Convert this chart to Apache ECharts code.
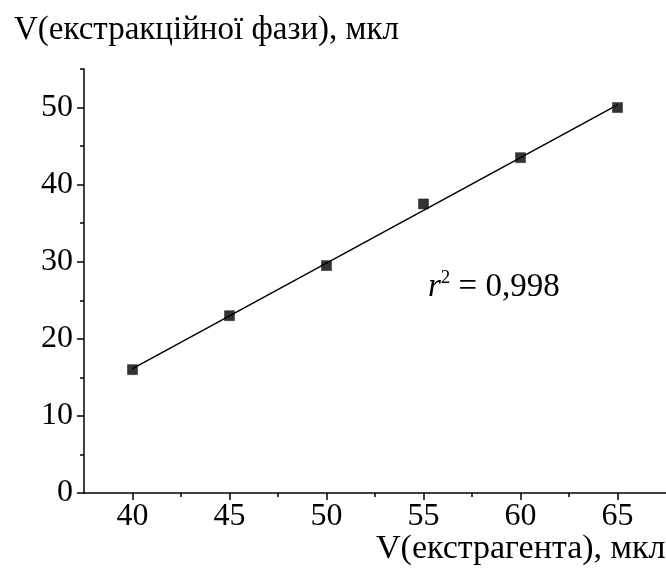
<!DOCTYPE html>
<html>
<head>
<meta charset="utf-8">
<script src="https://cdn.jsdelivr.net/npm/echarts@6/dist/echarts.min.js"></script>
<style>
  html, body { margin: 0; padding: 0; background: #fff; }
  #chart { width: 666px; height: 572px; }
</style>
</head>
<body>
<div id="chart"></div>
<script>
// Extractant volume (x) vs extraction-phase volume (y), µl
const extractantVolume = [40, 45, 50, 55, 60, 65];
const phaseVolume = [16, 23, 29.5, 37.5, 43.5, 50];

const xMajorTicks = [40, 45, 50, 55, 60, 65];
const xMinorTicks = [42.5, 47.5, 52.5, 57.5, 62.5];
const yMajorTicks = [0, 10, 20, 30, 40, 50];
const yMinorTicks = [5, 15, 25, 35, 45, 55];

const yAxisTitle = 'V(екстракційної фази), мкл';
const xAxisTitle = 'V(екстрагента), мкл';
const r2Text = '0,998';

// least-squares line through the measured points
function linearFit(xs, ys) {
  const n = xs.length;
  const mx = xs.reduce((a, b) => a + b, 0) / n;
  const my = ys.reduce((a, b) => a + b, 0) / n;
  let sxy = 0, sxx = 0;
  for (let i = 0; i < n; i++) {
    sxy += (xs[i] - mx) * (ys[i] - my);
    sxx += (xs[i] - mx) * (xs[i] - mx);
  }
  const k = sxy / sxx;
  return { k, b: my - k * mx };
}
const fit = linearFit(extractantVolume, phaseVolume);
const xFirst = extractantVolume[0];
const xLast = extractantVolume[extractantVolume.length - 1];
const fitLine = [[xFirst, fit.k * xFirst + fit.b], [xLast, fit.k * xLast + fit.b]];
const points = extractantVolume.map((x, i) => [x, phaseVolume[i]]);

const FONT = "'Liberation Serif', 'DejaVu Serif', serif";
const axisLine = { show: true, onZero: false, lineStyle: { color: '#000', width: 1.5 } };

const chart = echarts.init(document.getElementById('chart'), null, { renderer: 'canvas' });

chart.setOption({
  backgroundColor: '#fff',
  animation: false,
  grid: { left: 84, right: -7, top: 69, bottom: 79, containLabel: false },
  xAxis: [
    {
      type: 'value', min: 37.5, max: 67.5,
      axisLine,
      axisTick: { show: true, inside: false, length: 7, customValues: xMajorTicks,
        lineStyle: { color: '#000', width: 1.5 } },
      axisLabel: { show: true, customValues: xMajorTicks, margin: 8,
        color: '#000', fontFamily: FONT, fontSize: 32 },
      splitLine: { show: false }
    },
    {
      type: 'value', min: 37.5, max: 67.5, position: 'bottom',
      axisLine: { show: false },
      axisTick: { show: true, inside: false, length: 4, customValues: xMinorTicks,
        lineStyle: { color: '#000', width: 1.5 } },
      axisLabel: { show: false },
      splitLine: { show: false }
    }
  ],
  yAxis: [
    {
      type: 'value', min: 0, max: 55,
      axisLine,
      axisTick: { show: true, inside: false, length: 7, customValues: yMajorTicks,
        lineStyle: { color: '#000', width: 1.5 } },
      axisLabel: { show: true, customValues: yMajorTicks, margin: 11,
        color: '#000', fontFamily: FONT, fontSize: 32 },
      splitLine: { show: false }
    },
    {
      type: 'value', min: 0, max: 55, position: 'left',
      axisLine: { show: false },
      axisTick: { show: true, inside: false, length: 4, customValues: yMinorTicks,
        lineStyle: { color: '#000', width: 1.5 } },
      axisLabel: { show: false },
      splitLine: { show: false }
    }
  ],
  series: [
    {
      name: 'fit', type: 'line', data: fitLine,
      xAxisIndex: 0, yAxisIndex: 0,
      showSymbol: false, symbol: 'none',
      lineStyle: { color: '#000', width: 1.5 },
      silent: true, z: 2
    },
    {
      name: 'measured', type: 'scatter', data: points,
      xAxisIndex: 0, yAxisIndex: 0,
      symbol: 'rect', symbolSize: 10,
      itemStyle: { color: '#000', borderColor: '#000', borderWidth: 0.5 },
      z: 3
    }
  ],
  graphic: [
    {
      type: 'text', left: 14, top: 14,
      style: { text: yAxisTitle, fill: '#000', font: '33px ' + FONT }
    },
    {
      type: 'text', left: 376, top: 532,
      style: { text: xAxisTitle, fill: '#000', font: '34px ' + FONT }
    },
    {
      type: 'text', left: 428, top: 269,
      style: {
        text: '{r|r}{s|2}{t| = ' + r2Text + '}',
        rich: {
          r: { fontFamily: FONT, fontStyle: 'italic', fontSize: 33, fill: '#000', verticalAlign: 'bottom' },
          s: { fontFamily: FONT, fontSize: 19, fill: '#000', verticalAlign: 'top', padding: [0, 0, 16, 0] },
          t: { fontFamily: FONT, fontSize: 33, fill: '#000', verticalAlign: 'bottom' }
        }
      }
    }
  ]
});
</script>
</body>
</html>
